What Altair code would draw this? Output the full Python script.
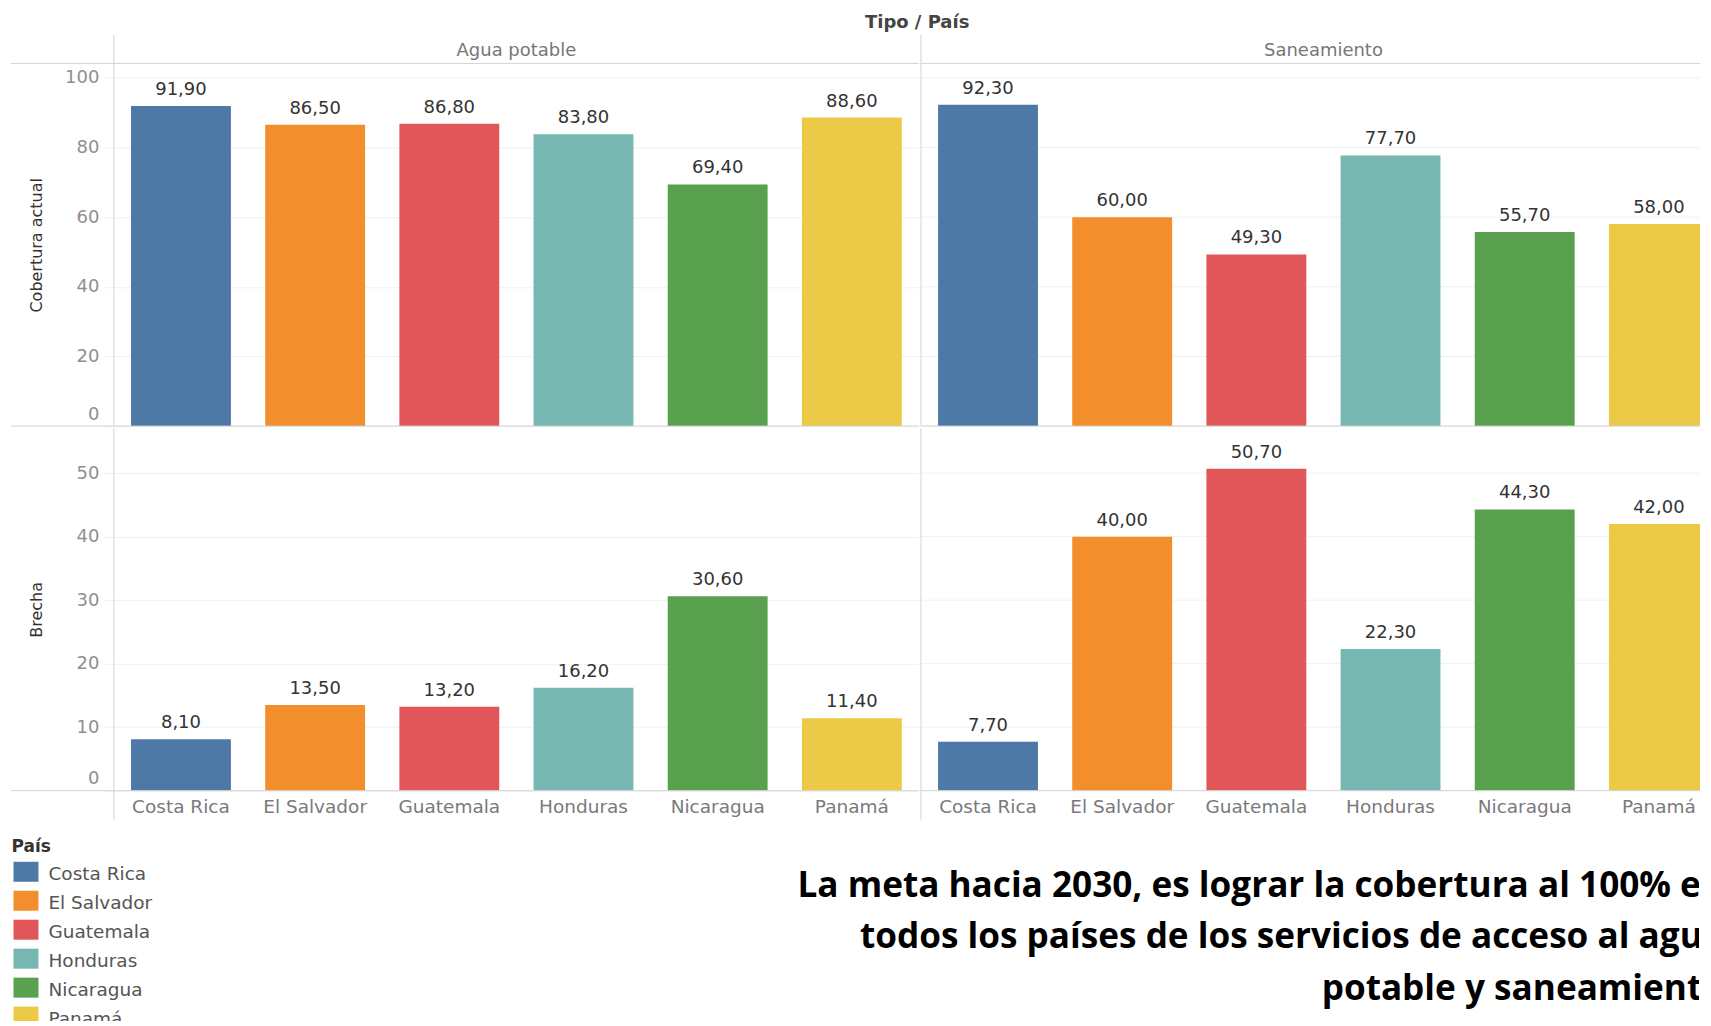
import altair as alt
import pandas as pd

# ---------------- data ----------------
paises = ["Costa Rica", "El Salvador", "Guatemala", "Honduras", "Nicaragua", "Panamá"]
colores = ["#4e79a7", "#f28e2b", "#e15759", "#76b7b2", "#59a14f", "#edc948"]
tipos = ["Agua potable", "Saneamiento"]
medidas = ["Cobertura actual", "Brecha"]
cobertura_agua = [91.9, 86.5, 86.8, 83.8, 69.4, 88.6]
cobertura_san = [92.3, 60.0, 49.3, 77.7, 55.7, 58.0]
brecha_agua = [8.1, 13.5, 13.2, 16.2, 30.6, 11.4]
brecha_san = [7.7, 40.0, 50.7, 22.3, 44.3, 42.0]
ticks_cob = [0, 20, 40, 60, 80, 100]
ticks_bre = [0, 10, 20, 30, 40, 50]
max_cob = 104.1
max_bre = 57.1
titulo = "Tipo / País"
titulo_leyenda = "País"
nota = [
    "La meta hacia 2030, es lograr la cobertura al 100% en",
    "todos los países de los servicios de acceso al agua",
    "potable y saneamiento",
]

# ---------------- style ----------------
F = "DejaVu Sans"
FB = "Open Sans"
LINE = "#d4d4d4"
GRID = "#f0f0f0"
W_L, W_R, H = 806, 780, 363
EXT = 29
LEFT = 103
W_BOT, H_BOT = W_L + W_R + 1, 199

color_scale = alt.Scale(domain=paises, range=colores)
one = pd.DataFrame({"k": [0]})


def rule(x, y, x2=None, y2=None, color=LINE):
    enc = {"x": alt.value(x), "y": alt.value(y)}
    if x2 is not None:
        enc["x2"] = alt.value(x2)
    if y2 is not None:
        enc["y2"] = alt.value(y2)
    return alt.Chart(one).mark_rule(color=color, strokeWidth=1).encode(**enc)


def panel(valores, tipo, medida, ymax, ticks, izquierda, arriba):
    df = pd.DataFrame({"País": paises, "valor": valores})
    w = W_L if izquierda else W_R
    if arriba:
        xaxis = None
    else:
        xaxis = alt.Axis(
            title=None, labelAngle=0, labelFont=F, labelFontSize=18.5,
            labelColor="#7a7a7a", labelPadding=7, ticks=False,
            domain=False, grid=False,
        )
    x = alt.X(
        "País:N", sort=paises, title=None, axis=xaxis,
        scale=alt.Scale(domain=paises, range=[0, W_L],
                        paddingInner=0.2556, paddingOuter=0.1278),
    )
    yscale = alt.Scale(domain=[0, ymax], nice=False, zero=True)
    if izquierda:
        yaxis = alt.Axis(
            values=ticks, title=medida, titleFont=F, titleFontSize=16,
            titleFontWeight="normal", titleColor="#333333",
            titleX=-77, titleY=H / 2, titleAngle=-90, titleBaseline="middle",
            titleAlign="center",
            labelFont=F, labelFontSize=18, labelColor="#8f8f8f",
            labelPadding=5, labelFlush=True, labelFlushOffset=-3,
            ticks=True, tickSize=10, tickColor=GRID, domain=False,
            grid=True, gridColor=GRID,
        )
    else:
        yaxis = None
    y = alt.Y("valor:Q", axis=yaxis, scale=yscale)
    base = alt.Chart(df)
    layers = []
    if not izquierda:
        grid = alt.Chart(pd.DataFrame({"t": ticks})).mark_rule(
            color=GRID, strokeWidth=1
        ).encode(
            y=alt.Y("t:Q", scale=yscale, axis=None),
            x=alt.value(0), x2=alt.value(W_R),
        )
        layers.append(grid)
    bars = base.mark_bar(clip=True).encode(
        x=x, y=y, color=alt.Color("País:N", scale=color_scale, legend=None)
    )
    labels = base.transform_calculate(
        etiqueta="replace(format(datum.valor, '.2f'), '.', ',')"
    ).mark_text(
        baseline="bottom", dy=-7, font=F, fontSize=18, color="#333333",
        clip=True,
    ).encode(x=x, y=y, text="etiqueta:N")
    layers += [bars, labels]
    x0 = -LEFT if izquierda else 0
    if arriba:
        layers += [
            rule(0, -EXT, y2=H),
            rule(x0, 0, x2=w),
            rule(x0, H, x2=w),
            alt.Chart(one).mark_text(
                text=tipo, font=F, fontSize=18, color="#777777",
                baseline="middle", align="center",
            ).encode(x=alt.value(W_L / 2), y=alt.value(-13)),
        ]
    else:
        layers += [
            rule(0, 0, y2=H + EXT),
            rule(x0, H, x2=w),
        ]
    return alt.layer(*layers).properties(width=w, height=H)


fila1 = alt.hconcat(
    panel(cobertura_agua, tipos[0], medidas[0], max_cob, ticks_cob, True, True),
    panel(cobertura_san, tipos[1], medidas[0], max_cob, ticks_cob, False, True),
    spacing=0,
)
fila2 = alt.hconcat(
    panel(brecha_agua, tipos[0], medidas[1], max_bre, ticks_bre, True, False),
    panel(brecha_san, tipos[1], medidas[1], max_bre, ticks_bre, False, False),
    spacing=0,
)

# ---------------- legend (drawn from the country list) ----------------
df_leg = pd.DataFrame({"País": paises})
y_leg = alt.Y(
    "País:N", sort=paises, axis=None,
    scale=alt.Scale(domain=paises, range=[35.7, 209.7],
                    paddingInner=0.31, paddingOuter=0.155),
)
leg_rect = alt.Chart(df_leg).mark_rect().encode(
    y=y_leg, x=alt.value(-100.5), x2=alt.value(-75.5),
    color=alt.Color("País:N", scale=color_scale, legend=None),
)
leg_text = alt.Chart(df_leg).mark_text(
    align="left", baseline="middle", dy=2,
    font=F, fontSize=18.5, color="#555555",
).encode(y=y_leg, x=alt.value(-65.5), text="País:N")
leg_title = alt.Chart(one).mark_text(
    text=titulo_leyenda, align="left", baseline="middle",
    font=F, fontSize=17, fontWeight="bold", color="#333333",
).encode(x=alt.value(-102.5), y=alt.value(25.7))

# ---------------- annotation ----------------
df_nota = pd.DataFrame({"linea": nota, "n": list(range(len(nota)))})
anotacion = alt.Chart(df_nota).mark_text(
    clip=True, align="right", baseline="middle",
    font=FB, fontSize=35.2, fontWeight="bold", color="#000000",
).encode(
    x=alt.value(W_BOT + 25),
    y=alt.Y("n:O", axis=None,
            scale=alt.Scale(type="point", domain=[0, 1, 2],
                            range=[64.2, 167.2], padding=0)),
    text="linea:N",
)

fila3 = alt.layer(leg_rect, leg_text, leg_title, anotacion).properties(
    width=W_BOT, height=H_BOT
).resolve_scale(y="independent")

# negative right/bottom padding crops the page edge like the reference crop
chart = alt.vconcat(
    fila1, fila2, fila3, spacing=0,
    title=alt.TitleParams(
        text=titulo, font=F, fontSize=18, fontWeight="bold", color="#444444",
        anchor="middle", dx=49, offset=2,
    ),
).properties(
    padding={"left": 2, "top": 5, "right": -24, "bottom": -9},
    background="white",
).configure_view(stroke="transparent")

chart.save("out.html", embed_options={"renderer": "svg", "actions": False})
